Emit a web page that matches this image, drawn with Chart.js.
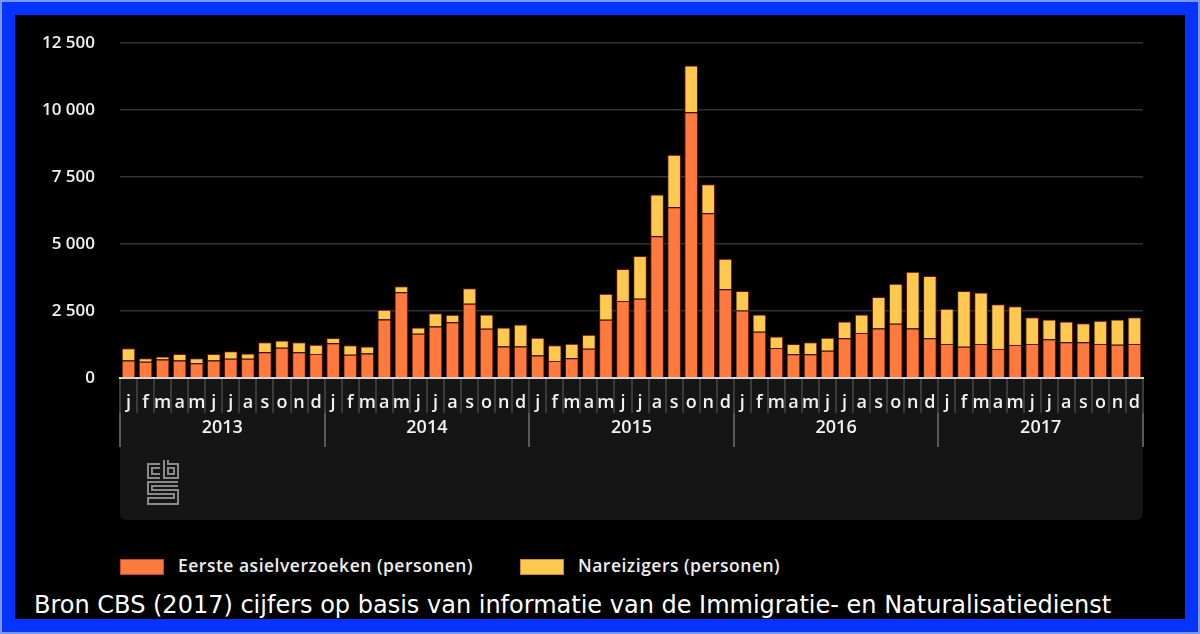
<!DOCTYPE html>
<html>
<head>
<meta charset="utf-8">
<script src="https://cdn.jsdelivr.net/npm/chart.js@4"></script>
<style>
    html, body { margin: 0; padding: 0; background: #000; }
    #frame {
        position: absolute; left: 0; top: 0; width: 1200px; height: 634px;
        background: #0533ff; box-sizing: border-box;
        border: 2px solid #7d95ff;
    }
    #inner {
        position: absolute; left: 13px; top: 13px; width: 1170px; height: 604px;
        background: #000;
    }
    #chartBox { position: absolute; left: 0; top: 0; width: 1170px; height: 515px; }
    .legend { position: absolute; top: 544px; font: 600 17.5px "Open Sans", sans-serif; letter-spacing: 0.5px; color: #eee; }
    .legend span.box { position: absolute; top: 0; width: 42px; height: 14px; }
    .legend span.txt { position: absolute; top: -6px; white-space: nowrap; }
    #caption {
        position: absolute; left: 19px; top: 576px; white-space: nowrap;
        font: 24px "DejaVu Sans", sans-serif; color: #fff;
    }
</style>
</head>
<body>
<div id="frame">
    <div id="inner">
        <div id="chartBox"><canvas id="asielChart"></canvas></div>
        <div class="legend" style="left:105px">
            <span class="box" style="left:0;background:#ff7a3c;border:1px solid #c84a1a"></span>
            <span class="txt" style="left:58px">Eerste asielverzoeken (personen)</span>
        </div>
        <div class="legend" style="left:505px">
            <span class="box" style="left:0;background:#ffc94f;border:1px solid #d08a20"></span>
            <span class="txt" style="left:58px">Nareizigers (personen)</span>
        </div>
        <div id="caption">Bron CBS (2017) cijfers op basis van informatie van de Immigratie- en Naturalisatiedienst</div>
    </div>
</div>

<script>
const monthLetters = ["j", "f", "m", "a", "m", "j", "j", "a", "s", "o", "n", "d"];
const years = ["2013", "2014", "2015", "2016", "2017"];
const yTicks = [0, 2500, 5000, 7500, 10000, 12500];

// eerste asielverzoeken per maand, 2013-2017
const asielverzoeken = [
    650, 610, 690, 650, 550, 650, 720, 720, 960, 1130, 960, 900,
    1300, 870, 910, 2180, 3200, 1650, 1920, 2080, 2770, 1840, 1180, 1180,
    840, 630, 740, 1090, 2170, 2870, 2960, 5290, 6370, 9920, 6150, 3310,
    2520, 1730, 1120, 890, 890, 1020, 1480, 1680, 1850, 2020, 1850, 1480,
    1270, 1170, 1270, 1080, 1230, 1270, 1450, 1330, 1330, 1270, 1240, 1270
];

// nareizigers per maand, 2013-2017
const nareizigers = [
    460, 130, 110, 250, 190, 250, 280, 190, 370, 270, 370, 340,
    190, 350, 270, 370, 220, 230, 500, 280, 580, 530, 700, 820,
    660, 590, 540, 520, 970, 1200, 1590, 1560, 1960, 1740, 1080, 1140,
    730, 640, 430, 380, 440, 480, 630, 690, 1170, 1500, 2110, 2330,
    1310, 2080, 1920, 1670, 1450, 1000, 730, 780, 710, 870, 940, 1000
];

const monthLabels = [];
years.forEach(() => monthLetters.forEach((m) => monthLabels.push(m)));

function formatThousands(v) {
    return String(v).replace(/\B(?=(\d{3})+(?!\d))/g, " ");
}

// dark panel under the axis + cbs logo
const panelPlugin = {
    id: "panel",
    beforeDraw(chart) {
        const ctx = chart.ctx;
        const x = chart.scales.x;
        const top = chart.chartArea.bottom;
        const h = 142, r = 7;
        ctx.save();
        ctx.fillStyle = "#151515";
        ctx.beginPath();
        ctx.moveTo(x.left, top);
        ctx.lineTo(x.right, top);
        ctx.lineTo(x.right, top + h - r);
        ctx.quadraticCurveTo(x.right, top + h, x.right - r, top + h);
        ctx.lineTo(x.left + r, top + h);
        ctx.quadraticCurveTo(x.left, top + h, x.left, top + h - r);
        ctx.closePath();
        ctx.fill();
        ctx.restore();
    },
    afterDraw(chart) {
        const ctx = chart.ctx;
        const lx = chart.scales.x.left + 28;
        const ly = chart.chartArea.bottom + 86;
        ctx.save();
        ctx.strokeStyle = "#8a8a8a";
        ctx.lineWidth = 2;
        ctx.beginPath();
        // c
        ctx.moveTo(lx + 12, ly); ctx.lineTo(lx, ly); ctx.lineTo(lx, ly + 14); ctx.lineTo(lx + 12, ly + 14);
        ctx.moveTo(lx + 12, ly + 4); ctx.lineTo(lx + 4, ly + 4); ctx.lineTo(lx + 4, ly + 10); ctx.lineTo(lx + 12, ly + 10);
        // b
        ctx.moveTo(lx + 16, ly - 4); ctx.lineTo(lx + 16, ly + 14); ctx.lineTo(lx + 30, ly + 14); ctx.lineTo(lx + 30, ly); ctx.lineTo(lx + 20, ly);
        ctx.lineTo(lx + 20, ly - 4);
        ctx.moveTo(lx + 20, ly + 4); ctx.lineTo(lx + 26, ly + 4); ctx.lineTo(lx + 26, ly + 10); ctx.lineTo(lx + 20, ly + 10); ctx.closePath();
        // s
        ctx.moveTo(lx + 30, ly + 18); ctx.lineTo(lx, ly + 18); ctx.lineTo(lx, ly + 30); ctx.lineTo(lx + 26, ly + 30);
        ctx.lineTo(lx + 26, ly + 34); ctx.lineTo(lx, ly + 34); ctx.lineTo(lx, ly + 40); ctx.lineTo(lx + 30, ly + 40);
        ctx.lineTo(lx + 30, ly + 26); ctx.lineTo(lx + 4, ly + 26); ctx.lineTo(lx + 4, ly + 22); ctx.lineTo(lx + 30, ly + 22);
        ctx.stroke();
        ctx.restore();
    }
};

const ctx = document.getElementById("asielChart").getContext("2d");

new Chart(ctx, {
    type: "bar",
    data: {
        labels: monthLabels,
        datasets: [{
            label: "Eerste asielverzoeken (personen)",
            data: asielverzoeken,
            backgroundColor: "#ff7a3c",
            borderColor: "#6a1200",
            borderWidth: 1,
            borderSkipped: "start"
        }, {
            label: "Nareizigers (personen)",
            data: nareizigers,
            backgroundColor: "#ffc94f",
            borderColor: "#6a1200",
            borderWidth: 1,
            borderSkipped: "start"
        }]
    },
    options: {
        responsive: true,
        maintainAspectRatio: false,
        animation: false,
        datasets: { bar: { categoryPercentage: 1, barPercentage: 0.8 } },
        layout: { padding: { top: 28, right: 42, bottom: 83, left: 0 } },
        plugins: {
            legend: { display: false },
            tooltip: { enabled: false }
        },
        scales: {
            x: {
                stacked: true,
                grid: { offset: true, drawOnChartArea: false, color: "#3a3a3a", lineWidth: 2, tickLength: 35 },
                border: { color: "#d8d8d8", width: 2 },
                ticks: { color: "#f2f2f2", padding: -21, autoSkip: false, maxRotation: 0, font: { family: "Open Sans", size: 18, weight: "600" } },
                afterFit(scale) { scale.height = 35; }
            },
            x2: {
                type: "category",
                position: "bottom",
                labels: years,
                offset: true,
                grid: { offset: true, drawOnChartArea: false, color: "#5a5a5a", lineWidth: 2, tickLength: 34 },
                border: { display: false },
                ticks: { color: "#f2f2f2", padding: -30, font: { family: "Open Sans", size: 18, weight: "600" } },
                afterFit(scale) { scale.height = 34; }
            },
            y: {
                stacked: true,
                min: 0,
                max: 12500,
                afterBuildTicks(scale) { scale.ticks = yTicks.map((v) => ({ value: v })); },
                grid: { color: "#333", lineWidth: 1.5, drawTicks: false },
                border: { display: false },
                ticks: {
                    color: "#f2f2f2",
                    padding: 25,
                    font: { family: "Open Sans", size: 17, weight: "600" },
                    callback: (v) => formatThousands(v)
                },
                afterFit(scale) {
                    scale.width = 105;
                    scale.paddingTop = 0;
                    scale.paddingBottom = 0;
                }
            }
        }
    },
    plugins: [panelPlugin]
});
</script>
</body>
</html>
